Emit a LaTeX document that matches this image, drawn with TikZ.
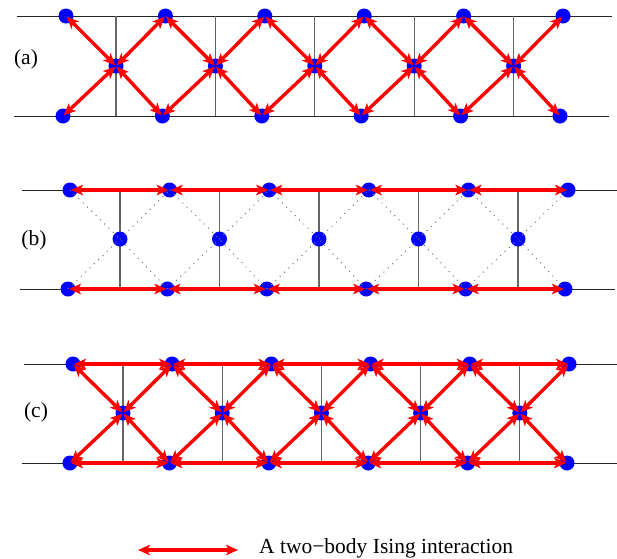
\documentclass[tikz,border=0pt]{standalone}
\usepackage{fontspec}
\setmainfont{Liberation Serif}
\usetikzlibrary{arrows.meta}
\tikzset{
  spin/.style={circle,fill=blue,inner sep=0pt,minimum size=15pt},
  rail/.style={draw=black!85,line width=1pt},
  rung/.style={draw=black!60,line width=1.1pt},
  guide/.style={draw=black!55,line width=1pt,dash pattern=on 1pt off 5pt},
  ising/.style={draw=red,line width=3.4pt,{Stealth[length=12pt,width=10.5pt,inset=3pt]}-{Stealth[length=12pt,width=10.5pt,inset=3pt]},shorten <=1pt,shorten >=1pt},
  lbl/.style={font=\fontsize{21.5}{24}\selectfont,inner sep=0pt}
}
\begin{document}
\begin{tikzpicture}[x=1pt,y=-1pt]
\useasboundingbox (0,0) rectangle (617,558);
% ---------- panel parameters: name/yT/yB/yM/top0/bot0/mid0/dT/dB/dM/l1/r1/l2/r2
\foreach \p/\yT/\yB/\yM/\tx/\bx/\mx/\dt/\db/\dm/\la/\ra/\lb/\rb in {
  a/16/116/66/66/63/116/99.4/99.4/99.4/17/612/14/609,
  b/190/289/239/70/68/120/99.6/99.4/99.5/22/617/20/615,
  c/364/463/413/73/70/123/99.2/99.4/99.2/24/617/22/617}{
  \coordinate (\p-tl) at (\la,\yT);
  \coordinate (\p-tr) at (\ra,\yT);
  \coordinate (\p-bl) at (\lb,\yB);
  \coordinate (\p-br) at (\rb,\yB);
  \draw[rail] (\p-tl) -- (\p-tr);
  \draw[rail] (\p-bl) -- (\p-br);
  \foreach \i in {0,...,4}{
    \coordinate (\p-vt\i) at ({\mx+\dm*\i},\yT);
    \coordinate (\p-vb\i) at ({\mx+\dm*\i},\yB);
    \draw[rung] (\p-vt\i) -- (\p-vb\i);
  }
  \foreach \i in {0,...,5}{
    \node[spin] (\p-t\i) at ({\tx+\dt*\i},\yT) {};
    \node[spin] (\p-b\i) at ({\bx+\db*\i},\yB) {};
  }
  \foreach \i in {0,...,4}{
    \node[spin] (\p-m\i) at ({\mx+\dm*\i},\yM) {};
  }
}
% ---------- labels
\node[lbl] (la) at (26,59) {(a)};
\node[lbl] (lb) at (34,240) {(b)};
\node[lbl] (lc) at (36,412) {(c)};
% ---------- (b) dotted guides
\foreach \i [evaluate=\i as \j using int(\i+1)] in {0,...,4}{
  \draw[guide] (b-t\i.center) -- (b-m\i.center) -- (b-b\j.center);
  \draw[guide] (b-b\i.center) -- (b-m\i.center) -- (b-t\j.center);
}
% ---------- diagonal interactions (a) and (c)
\foreach \p in {a,c}{
  \foreach \i [evaluate=\i as \j using int(\i+1)] in {0,...,4}{
    \draw[ising] (\p-t\i.center) -- (\p-m\i.center);
    \draw[ising] (\p-t\j.center) -- (\p-m\i.center);
    \draw[ising] (\p-b\i.center) -- (\p-m\i.center);
    \draw[ising] (\p-b\j.center) -- (\p-m\i.center);
  }
}
% ---------- horizontal interactions (b) and (c)
\foreach \p in {b,c}{
  \foreach \i [evaluate=\i as \j using int(\i+1)] in {0,...,4}{
    \draw[ising] (\p-t\i.center) -- (\p-t\j.center);
    \draw[ising] (\p-b\i.center) -- (\p-b\j.center);
  }
}
% ---------- legend
\coordinate (legL) at (138,550);
\coordinate (legR) at (238,550);
\draw[ising,shorten <=0pt,shorten >=0pt] (legL) -- (legR);
\node[lbl,anchor=base west] (legtext) at (259,553) {A two−body Ising interaction};
\end{tikzpicture}
\end{document}
